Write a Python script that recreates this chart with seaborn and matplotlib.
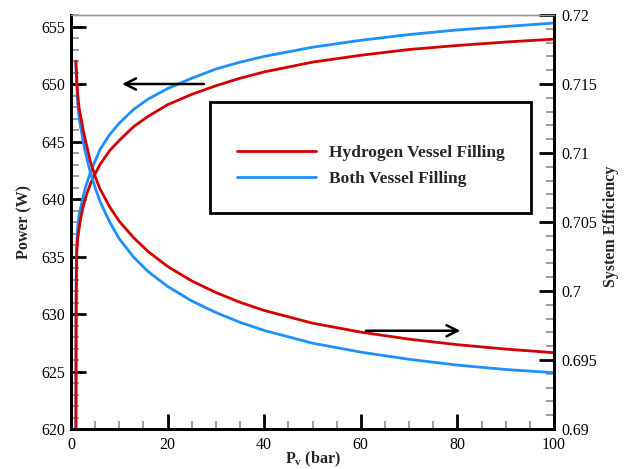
import matplotlib
matplotlib.use("Agg")
import matplotlib.pyplot as plt
from matplotlib.patches import Rectangle
from matplotlib.lines import Line2D
from matplotlib.ticker import MultipleLocator, FormatStrFormatter
import pandas as pd
import seaborn as sns

# Vessel pressure (bar)
pv = [1.0, 1.05, 1.1, 1.2, 1.4, 1.7, 2, 2.5, 3, 4, 5, 6, 8, 10, 13, 16, 20,
      25, 30, 35, 40, 50, 60, 70, 80, 90, 100]

# Power consumption (W)
power_hydrogen = [615.0, 629.0, 633.0, 635.5, 636.6, 637.5, 638.3, 639.3, 640.1,
                  641.3, 642.2, 643.0, 644.2, 645.1, 646.3, 647.2, 648.2, 649.1,
                  649.85, 650.5, 651.05, 651.9, 652.5, 653.0, 653.35, 653.65, 653.9]
power_both = [615.0, 630.0, 634.0, 636.2, 637.6, 638.7, 639.2, 640.2, 641.0,
              642.3, 643.3, 644.3, 645.6, 646.6, 647.8, 648.7, 649.6, 650.5,
              651.3, 651.9, 652.4, 653.2, 653.8, 654.3, 654.7, 655.0, 655.3]

# System efficiency (-)
eff_hydrogen = [0.71667, 0.7163, 0.7160, 0.7153, 0.7142, 0.7132, 0.7127, 0.7117,
                0.7109, 0.7094, 0.7083, 0.7074, 0.7061, 0.70505, 0.70385, 0.70285,
                0.70178, 0.70073, 0.69989, 0.69918, 0.69859, 0.69767, 0.69702,
                0.69651, 0.69611, 0.69579, 0.69553]
eff_both = [0.71657, 0.7161, 0.7157, 0.7148, 0.7136, 0.7125, 0.7119, 0.7109,
            0.7100, 0.7086, 0.7075, 0.7065, 0.7050, 0.70378, 0.70244, 0.70140,
            0.70033, 0.69928, 0.69844, 0.69773, 0.69714, 0.69622, 0.69557,
            0.69505, 0.69463, 0.69431, 0.69408]

cases = ["Hydrogen Vessel Filling", "Both Vessel Filling"]
colors = {"Hydrogen Vessel Filling": "#d40000", "Both Vessel Filling": "#1e8fff"}

power_df = pd.DataFrame({
    "Pv": pv + pv,
    "Power": power_hydrogen + power_both,
    "Case": [cases[0]] * len(pv) + [cases[1]] * len(pv),
})
eff_df = pd.DataFrame({
    "Pv": pv + pv,
    "Efficiency": eff_hydrogen + eff_both,
    "Case": [cases[0]] * len(pv) + [cases[1]] * len(pv),
})

sns.set_style("white")
plt.rcParams["font.family"] = ["Liberation Serif", "DejaVu Serif"]
plt.rcParams["mathtext.fontset"] = "custom"
plt.rcParams["mathtext.rm"] = "Liberation Serif"
plt.rcParams["mathtext.bf"] = "Liberation Serif:bold"

fig = plt.figure(figsize=(6.28, 4.69), dpi=100)
ax = fig.add_axes([71 / 628, 40 / 469, 483 / 628, 414 / 469])
ax2 = ax.twinx()

# Hydrogen case drawn last so it sits on top of the other case
draw_order = cases[::-1]
sns.lineplot(data=power_df, x="Pv", y="Power", hue="Case", hue_order=draw_order,
             palette=colors, linewidth=2, ax=ax, legend=False)
sns.lineplot(data=eff_df, x="Pv", y="Efficiency", hue="Case", hue_order=draw_order,
             palette=colors, linewidth=2, ax=ax2, legend=False)

ax.set_xlim(0, 100)
ax.set_ylim(620, 656)
ax2.set_ylim(0.69, 0.72)

ax.xaxis.set_major_locator(MultipleLocator(20))
ax.xaxis.set_minor_locator(MultipleLocator(5))
ax.yaxis.set_major_locator(MultipleLocator(5))
ax.yaxis.set_minor_locator(MultipleLocator(1))
ax2.yaxis.set_major_locator(MultipleLocator(0.005))
ax2.yaxis.set_minor_locator(MultipleLocator(0.001))
ax2.yaxis.set_major_formatter(FormatStrFormatter("%g"))

for a in (ax, ax2):
    a.tick_params(which="major", direction="in", length=11, width=2,
                  color="black", labelsize=11.5, labelcolor="black")
    a.tick_params(which="minor", direction="in", length=6, width=1.2,
                  color="#8c8c8c")
ax.tick_params(axis="y", which="both", left=True, right=False, pad=4)
ax.tick_params(axis="x", which="both", bottom=True, top=False, pad=6)
ax2.tick_params(axis="y", which="both", left=False, right=True, pad=5)

for a in (ax, ax2):
    for side in ("left", "bottom", "right"):
        a.spines[side].set_color("black")
        a.spines[side].set_linewidth(2)
    a.spines["top"].set_color("#9a9a9a")
    a.spines["top"].set_linewidth(1)

ax.set_xlabel(r"$\mathbf{P}_{\mathbf{v}}$ (bar)", fontsize=11.5,
              fontweight="bold")
ax.set_ylabel("Power (W)", fontsize=11.5, fontweight="bold")
ax2.set_ylabel("System Efficiency", fontsize=11.5, fontweight="bold")
ax.xaxis.set_label_coords(0.5, -0.05)
ax.yaxis.set_label_coords(-0.079, 0.5)
ax2.yaxis.set_label_coords(1.101, 0.49)

# Arrows pointing to the axis each curve family belongs to
ax.annotate("", xy=(10.0, 650), xytext=(28.1, 650),
            arrowprops=dict(arrowstyle="->", lw=1.8, color="black",
                            mutation_scale=20))
ax2.annotate("", xy=(81.2, 0.69712), xytext=(60.5, 0.69712),
             arrowprops=dict(arrowstyle="->", lw=1.8, color="black",
                             mutation_scale=20))

# Legend box
box = Rectangle((0.288, 0.522), 0.664, 0.268, transform=ax2.transAxes,
                facecolor="white", edgecolor="black", linewidth=2, zorder=5)
ax2.add_patch(box)
handles = [Line2D([], [], color=colors[c], linewidth=2) for c in cases]
leg = ax2.legend(handles=handles, labels=cases, loc="center",
                 bbox_to_anchor=(0.621, 0.635), frameon=False,
                 prop={"weight": "bold", "size": 12.5}, handlelength=4.55,
                 handletextpad=0.7, labelspacing=0.6, borderpad=0)
leg.set_zorder(6)

fig.savefig("out.png", dpi=100)
